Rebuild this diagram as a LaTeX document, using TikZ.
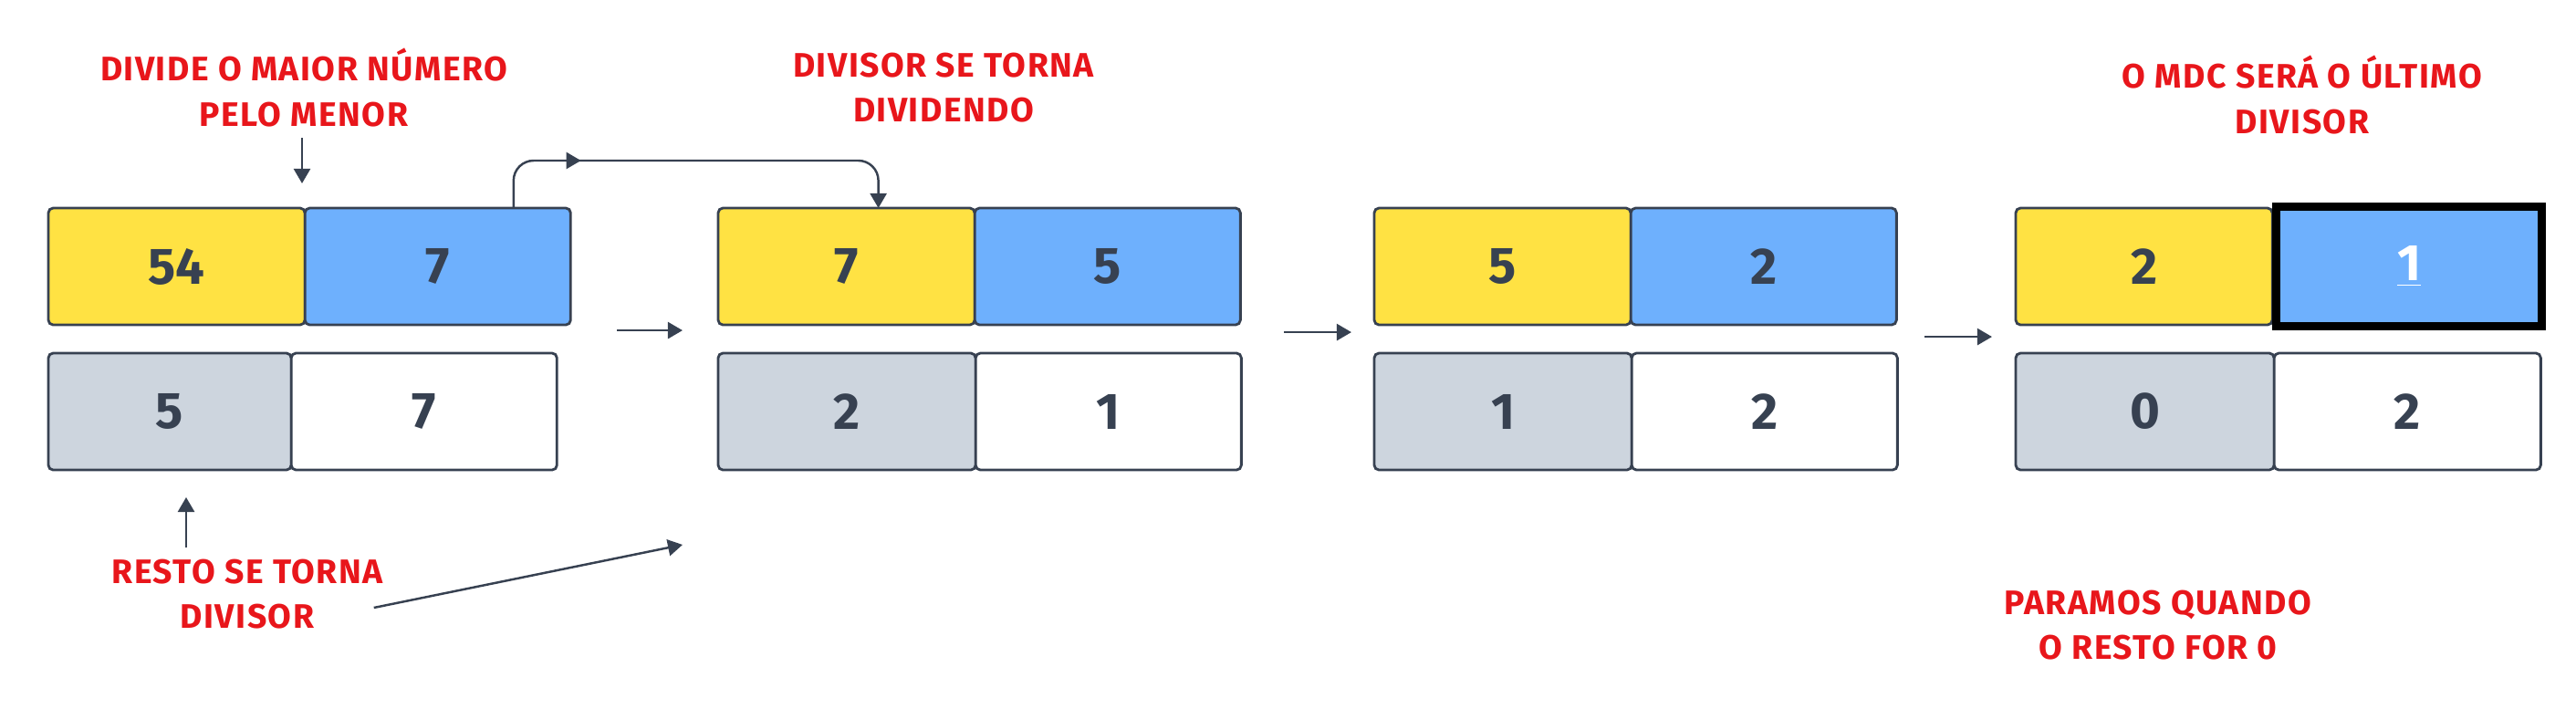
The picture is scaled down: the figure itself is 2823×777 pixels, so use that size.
\documentclass[tikz,border=0pt]{standalone}
\usepackage{fontspec}
\usepackage{xcolor}
\usetikzlibrary{arrows.meta,positioning,decorations.markings}
\setmainfont{Fira Sans}
\newfontfamily\notefont{Fira Sans}[LetterSpace=4]

\definecolor{ink}{HTML}{374151}
\definecolor{cellyellow}{HTML}{FFE243}
\definecolor{cellblue}{HTML}{6EB0FD}
\definecolor{cellgray}{HTML}{CDD5DE}
\definecolor{notered}{HTML}{E8161B}

\begin{document}
\begin{tikzpicture}[
    x=0.01cm, y=-0.01cm,
    cell/.style={rectangle, draw=ink, line width=0.8pt, rounded corners=1.5pt, minimum height=1.28cm, outer sep=0pt, inner sep=0pt, text=ink, font=\bfseries\fontsize{16}{18}\selectfont},
    dividend/.style={cell, fill=cellyellow, minimum width=2.81cm},
    divisor/.style={cell, fill=cellblue, minimum width=2.91cm},
    remainder/.style={cell, fill=cellgray, minimum width=2.82cm},
    quotient/.style={cell, fill=white, minimum width=2.91cm},
    note/.style={text=notered, align=center, font=\notefont\bfseries\fontsize{10.6}{14}\selectfont},
    arrow/.style={-{Triangle[length=0.16cm,width=0.18cm]}, color=ink, line width=0.7pt}
]
\useasboundingbox (0,0) rectangle (2823,777);

% Step 1: 54 / 7
\node[dividend, anchor=north west] (dividend1) at (53,228) {54};
\node[divisor, right=0pt of dividend1] (divisor1) {7};
\node[remainder, minimum width=2.66cm, anchor=north west] (remainder1) at (53,387) {5};
\node[quotient, right=0pt of remainder1] (quotient1) {7};

% Step 2: 7 / 5
\node[dividend, anchor=north west] (dividend2) at (787,228) {7};
\node[divisor, right=0pt of dividend2] (divisor2) {5};
\node[remainder, anchor=north west] (remainder2) at (787,387) {2};
\node[quotient, right=0pt of remainder2] (quotient2) {1};

% Step 3: 5 / 2
\node[dividend, anchor=north west] (dividend3) at (1506,228) {5};
\node[divisor, right=0pt of dividend3] (divisor3) {2};
\node[remainder, anchor=north west] (remainder3) at (1506,387) {1};
\node[quotient, right=0pt of remainder3] (quotient3) {2};

% Step 4: 2 / 1
\node[dividend, anchor=north west] (dividend4) at (2209,228) {2};
\node[divisor, draw=black, line width=0.09cm, sharp corners, minimum height=1.30cm, text=white, right=0.045cm of dividend4] (divisor4) {\underline{1}};
\node[remainder, minimum width=2.83cm, anchor=north west] (remainder4) at (2209,387) {0};
\node[quotient, minimum width=2.92cm, right=0pt of remainder4] (quotient4) {2};

% Notes
\node[note] (notedivide) at (333,96) {DIVIDE O MAIOR NÚMERO\\PELO MENOR};
\node[note] (notedividend) at (1034,96) {DIVISOR SE TORNA\\DIVIDENDO};
\node[note] (notemdc) at (2523,104) {O MDC SERÁ O ÚLTIMO\\DIVISOR};
\node[note] (noteresto) at (271,651) {RESTO SE TORNA\\DIVISOR};
\node[note] (notestop) at (2365,685) {PARAMOS QUANDO\\O RESTO FOR 0};

% Arrows - notes
\coordinate (dividetip) at (331,201);
\draw[arrow] (notedivide.south -| dividetip) -- (dividetip);
\coordinate (restotip) at (204,545);
\draw[arrow] (noteresto.north -| restotip) -- (restotip);
\coordinate (restoend) at (748,597);
\draw[arrow] ([xshift=-0.22cm,yshift=-0.15cm]noteresto.east) -- (restoend);

% Divisor moves to dividend
\draw[arrow, rounded corners=0.22cm, postaction={decorate},
    decoration={markings, mark=at position 0.24 with {\arrow{Triangle[length=0.16cm,width=0.18cm]}}}]
    ([xshift=0.83cm]divisor1.north) -- ++(0,-52) -| ([xshift=0.35cm]dividend2.north);

% Arrows - main flow
\draw[arrow] ([xshift=0.51cm,yshift=-0.06cm]divisor1.south east) -- ([xshift=-0.39cm,yshift=-0.06cm]dividend2.south west);
\draw[arrow] ([xshift=0.48cm,yshift=-0.08cm]divisor2.south east) -- ([xshift=-0.25cm,yshift=-0.08cm]dividend3.south west);
\draw[arrow] ([xshift=0.31cm,yshift=-0.13cm]divisor3.south east) -- ([xshift=-0.26cm,yshift=-0.13cm]dividend4.south west);

\end{tikzpicture}
\end{document}
